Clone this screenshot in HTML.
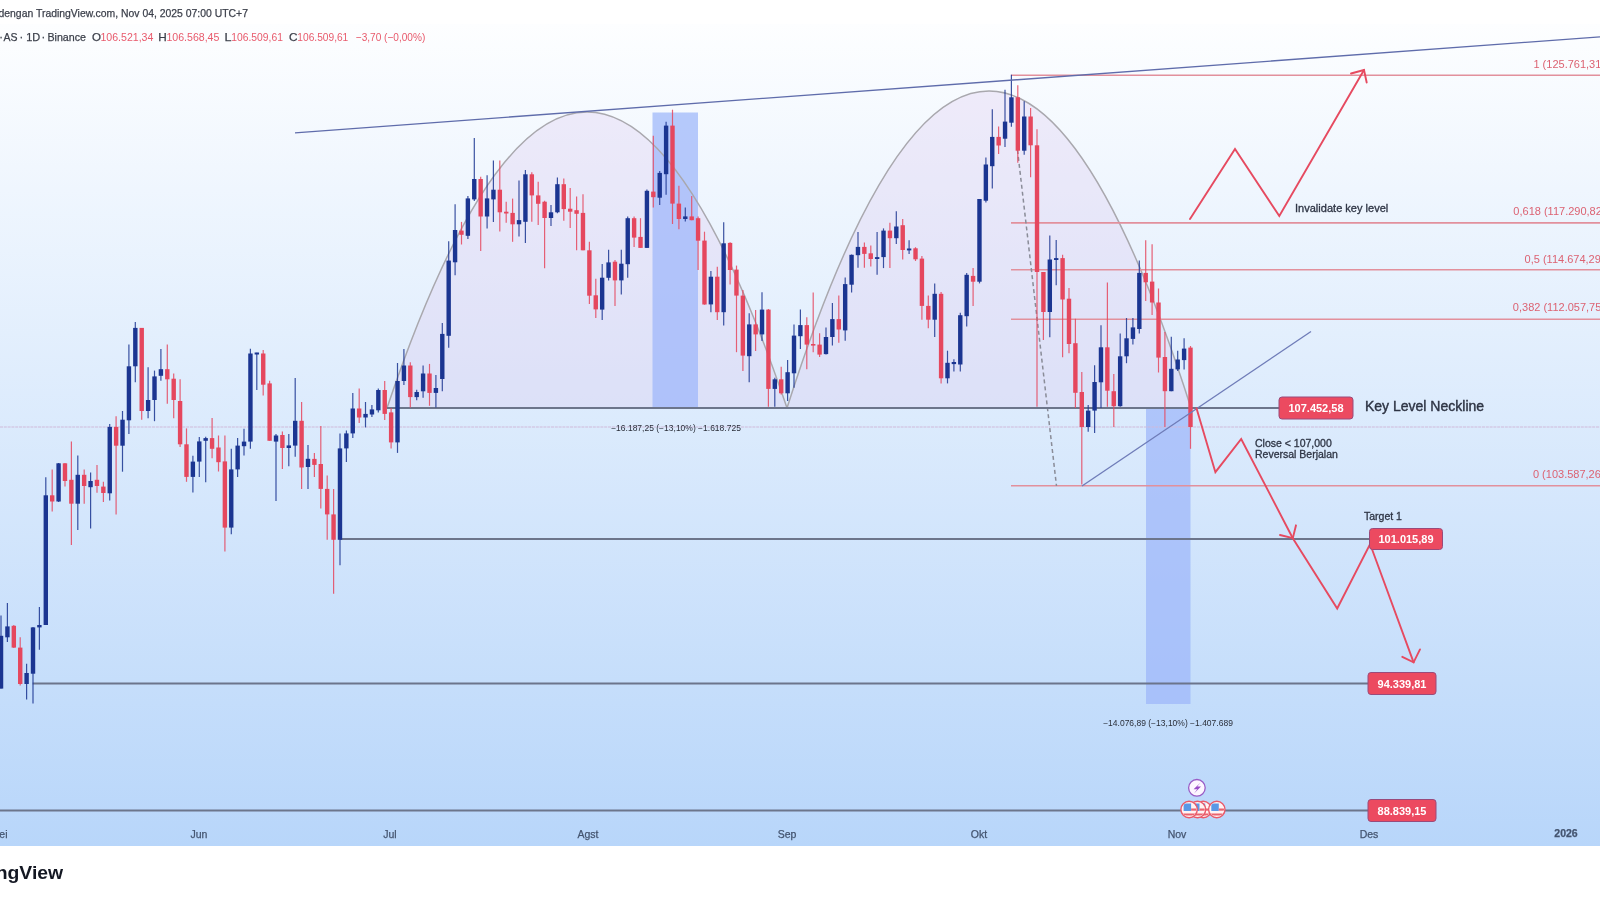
<!DOCTYPE html>
<html><head><meta charset="utf-8">
<style>
html,body{margin:0;padding:0;width:1600px;height:900px;overflow:hidden;background:#fff;}
body{font-family:"Liberation Sans",sans-serif;position:relative;}
#top{position:absolute;left:0;top:0;width:1600px;height:24.5px;background:#fff;border-bottom:1.5px solid #f2f2f3;box-sizing:border-box;}
#chartbg{position:absolute;left:0;top:24px;width:1600px;height:822px;background:linear-gradient(to bottom,#fdfeff 0%,rgb(184,214,250) 100%);}
#bottom{position:absolute;left:0;top:846px;width:1600px;height:54px;background:#fff;}
svg{position:absolute;left:0;top:0;filter:blur(0.45px);}
.t{font-family:"Liberation Sans",sans-serif;}
</style></head>
<body>
<div id="top"></div>
<div id="chartbg"></div>
<div id="bottom"></div>
<svg width="1600" height="900" viewBox="0 0 1600 900">
  <!-- header texts -->
  <g class="t" font-size="11" fill="#3b3f4a" stroke="#3b3f4a" stroke-width="0.25">
  <text x="-1.5" y="17" textLength="249.5" lengthAdjust="spacingAndGlyphs">dengan TradingView.com, Nov 04, 2025 07:00 UTC+7</text>
  <text x="-0.8" y="41">·</text>
  <text x="3.5" y="41" textLength="14" lengthAdjust="spacingAndGlyphs">AS</text>
  <text x="19.5" y="41">·</text>
  <text x="26.2" y="41" textLength="14" lengthAdjust="spacingAndGlyphs">1D</text>
  <text x="41.5" y="41">·</text>
  <text x="47.4" y="41" textLength="38.6" lengthAdjust="spacingAndGlyphs">Binance</text>
  <text x="92.1" y="41" textLength="9" lengthAdjust="spacingAndGlyphs">O</text>
  <text x="100.4" y="41" textLength="53" lengthAdjust="spacingAndGlyphs" fill="#e85a6c" stroke="none">106.521,34</text>
  <text x="158.2" y="41" textLength="8.5" lengthAdjust="spacingAndGlyphs">H</text>
  <text x="166.4" y="41" textLength="53" lengthAdjust="spacingAndGlyphs" fill="#e85a6c" stroke="none">106.568,45</text>
  <text x="224.4" y="41" textLength="7" lengthAdjust="spacingAndGlyphs">L</text>
  <text x="231.3" y="41" textLength="51.6" lengthAdjust="spacingAndGlyphs" fill="#e85a6c" stroke="none">106.509,61</text>
  <text x="289.1" y="41" textLength="8.5" lengthAdjust="spacingAndGlyphs">C</text>
  <text x="297.3" y="41" textLength="51" lengthAdjust="spacingAndGlyphs" fill="#e85a6c" stroke="none">106.509,61</text>
  <text x="355.8" y="41" textLength="69.5" lengthAdjust="spacingAndGlyphs" fill="#e85a6c" stroke="none">−3,70 (−0,00%)</text>
  </g>

  <!-- arcs fill -->
  <path d="M387,408 Q587,-184 787,408 Z" fill="#dcc8ef" fill-opacity="0.3"/>
  <path d="M787,408 Q989,-226 1191,408 Z" fill="#dcc8ef" fill-opacity="0.3"/>

  <!-- blue rectangles -->
  <rect x="652.5" y="112.5" width="45.5" height="295.5" fill="#9db5fa" fill-opacity="0.72"/>
  <rect x="1146" y="408" width="44.5" height="296" fill="#9db5fa" fill-opacity="0.72"/>

  <!-- arcs stroke -->
  <path d="M387,408 Q587,-184 787,408" fill="none" stroke="#a9a8ae" stroke-width="1.5"/>
  <path d="M787,408 Q989,-226 1191,408" fill="none" stroke="#a9a8ae" stroke-width="1.5"/>

  <!-- fib lines -->
  <g stroke="#e2909c" stroke-width="1.6">
    <line x1="1011" y1="75.2" x2="1600" y2="75.2"/>
    <line x1="1011" y1="222.9" x2="1600" y2="222.9"/>
    <line x1="1011" y1="269.7" x2="1600" y2="269.7"/>
    <line x1="1011" y1="319.2" x2="1600" y2="319.2"/>
    <line x1="1011" y1="485.8" x2="1600" y2="485.8"/>
  </g>
  <g class="t" font-size="11" fill="#dc6272" text-anchor="end">
    <text x="1605" y="67.5">1 (125.761,31)</text>
    <text x="1605.5" y="215.3">0,618 (117.290,82)</text>
    <text x="1604.5" y="262.7">0,5 (114.674,29)</text>
    <text x="1605" y="310.7">0,382 (112.057,75)</text>
    <text x="1604.5" y="478">0 (103.587,26)</text>
  </g>
  <!-- dashed fib trend -->
  <line x1="1017.5" y1="150" x2="1056.5" y2="486" stroke="#8a8c98" stroke-width="1.5" stroke-dasharray="4,3"/>

  <!-- current price dotted line -->
  <line x1="0" y1="427" x2="1600" y2="427" stroke="#cfb9da" stroke-width="1.2" stroke-dasharray="3,0.8"/>

  <!-- horizontal levels -->
  <g stroke="#6c758b" stroke-width="1.8">
    <line x1="387" y1="408" x2="1280" y2="408"/>
    <line x1="340" y1="539" x2="1370" y2="539"/>
    <line x1="32.6" y1="683.5" x2="1370" y2="683.5"/>
    <line x1="0" y1="810.5" x2="1370" y2="810.5"/>
  </g>

  <!-- CANDLES -->
  <line x1="1.0" y1="615.6" x2="1.0" y2="688.6" stroke="#1b3591" stroke-width="1.2" opacity="0.85"/>
<rect x="-1.17" y="635.8" width="4.4" height="52.8" fill="#1b3591"/>
<line x1="7.4" y1="603.0" x2="7.4" y2="642.0" stroke="#1b3591" stroke-width="1.2" opacity="0.85"/>
<rect x="5.23" y="626.4" width="4.4" height="10.9" fill="#1b3591"/>
<line x1="13.8" y1="625.0" x2="13.8" y2="648.0" stroke="#e5475e" stroke-width="1.2" opacity="0.85"/>
<rect x="11.62" y="625.8" width="4.4" height="21.8" fill="#e5475e"/>
<line x1="20.2" y1="637.3" x2="20.2" y2="685.5" stroke="#e5475e" stroke-width="1.2" opacity="0.85"/>
<rect x="18.02" y="647.6" width="4.4" height="36.4" fill="#e5475e"/>
<line x1="26.6" y1="663.7" x2="26.6" y2="699.5" stroke="#1b3591" stroke-width="1.2" opacity="0.85"/>
<rect x="24.41" y="673.0" width="4.4" height="11.0" fill="#1b3591"/>
<line x1="33.0" y1="627.0" x2="33.0" y2="703.5" stroke="#1b3591" stroke-width="1.2" opacity="0.85"/>
<rect x="30.81" y="627.4" width="4.4" height="46.3" fill="#1b3591"/>
<line x1="39.4" y1="607.0" x2="39.4" y2="649.8" stroke="#1b3591" stroke-width="1.2" opacity="0.85"/>
<rect x="37.20" y="625.0" width="4.4" height="2.4" fill="#1b3591"/>
<line x1="45.8" y1="477.3" x2="45.8" y2="625.0" stroke="#1b3591" stroke-width="1.2" opacity="0.85"/>
<rect x="43.60" y="495.3" width="4.4" height="129.7" fill="#1b3591"/>
<line x1="52.2" y1="469.5" x2="52.2" y2="511.5" stroke="#e5475e" stroke-width="1.2" opacity="0.85"/>
<rect x="49.99" y="495.3" width="4.4" height="6.2" fill="#e5475e"/>
<line x1="58.6" y1="463.0" x2="58.6" y2="502.0" stroke="#1b3591" stroke-width="1.2" opacity="0.85"/>
<rect x="56.39" y="463.3" width="4.4" height="38.2" fill="#1b3591"/>
<line x1="65.0" y1="463.0" x2="65.0" y2="486.6" stroke="#e5475e" stroke-width="1.2" opacity="0.85"/>
<rect x="62.78" y="463.3" width="4.4" height="17.7" fill="#e5475e"/>
<line x1="71.4" y1="441.5" x2="71.4" y2="545.0" stroke="#e5475e" stroke-width="1.2" opacity="0.85"/>
<rect x="69.17" y="479.8" width="4.4" height="23.9" fill="#e5475e"/>
<line x1="77.8" y1="455.5" x2="77.8" y2="530.0" stroke="#1b3591" stroke-width="1.2" opacity="0.85"/>
<rect x="75.57" y="474.8" width="4.4" height="28.9" fill="#1b3591"/>
<line x1="84.2" y1="469.5" x2="84.2" y2="503.7" stroke="#e5475e" stroke-width="1.2" opacity="0.85"/>
<rect x="81.96" y="474.8" width="4.4" height="11.2" fill="#e5475e"/>
<line x1="90.6" y1="472.6" x2="90.6" y2="528.6" stroke="#1b3591" stroke-width="1.2" opacity="0.85"/>
<rect x="88.36" y="481.0" width="4.4" height="6.2" fill="#1b3591"/>
<line x1="97.0" y1="464.9" x2="97.0" y2="492.8" stroke="#e5475e" stroke-width="1.2" opacity="0.85"/>
<rect x="94.76" y="479.8" width="4.4" height="6.2" fill="#e5475e"/>
<line x1="103.4" y1="481.8" x2="103.4" y2="502.0" stroke="#e5475e" stroke-width="1.2" opacity="0.85"/>
<rect x="101.15" y="486.6" width="4.4" height="6.4" fill="#e5475e"/>
<line x1="109.7" y1="424.0" x2="109.7" y2="500.6" stroke="#1b3591" stroke-width="1.2" opacity="0.85"/>
<rect x="107.55" y="426.9" width="4.4" height="66.4" fill="#1b3591"/>
<line x1="116.1" y1="416.2" x2="116.1" y2="514.4" stroke="#e5475e" stroke-width="1.2" opacity="0.85"/>
<rect x="113.94" y="426.9" width="4.4" height="18.8" fill="#e5475e"/>
<line x1="122.5" y1="411.0" x2="122.5" y2="471.7" stroke="#1b3591" stroke-width="1.2" opacity="0.85"/>
<rect x="120.34" y="419.7" width="4.4" height="26.0" fill="#1b3591"/>
<line x1="128.9" y1="344.6" x2="128.9" y2="434.1" stroke="#1b3591" stroke-width="1.2" opacity="0.85"/>
<rect x="126.73" y="366.3" width="4.4" height="54.0" fill="#1b3591"/>
<line x1="135.3" y1="322.1" x2="135.3" y2="382.2" stroke="#1b3591" stroke-width="1.2" opacity="0.85"/>
<rect x="133.13" y="327.9" width="4.4" height="38.4" fill="#1b3591"/>
<line x1="141.7" y1="328.0" x2="141.7" y2="419.7" stroke="#e5475e" stroke-width="1.2" opacity="0.85"/>
<rect x="139.52" y="327.9" width="4.4" height="83.1" fill="#e5475e"/>
<line x1="148.1" y1="367.2" x2="148.1" y2="418.3" stroke="#1b3591" stroke-width="1.2" opacity="0.85"/>
<rect x="145.92" y="400.0" width="4.4" height="11.0" fill="#1b3591"/>
<line x1="154.5" y1="370.6" x2="154.5" y2="421.2" stroke="#1b3591" stroke-width="1.2" opacity="0.85"/>
<rect x="152.31" y="376.4" width="4.4" height="23.6" fill="#1b3591"/>
<line x1="160.9" y1="349.0" x2="160.9" y2="380.7" stroke="#1b3591" stroke-width="1.2" opacity="0.85"/>
<rect x="158.70" y="369.2" width="4.4" height="6.6" fill="#1b3591"/>
<line x1="167.3" y1="344.6" x2="167.3" y2="403.8" stroke="#e5475e" stroke-width="1.2" opacity="0.85"/>
<rect x="165.10" y="369.2" width="4.4" height="10.1" fill="#e5475e"/>
<line x1="173.7" y1="373.5" x2="173.7" y2="418.3" stroke="#e5475e" stroke-width="1.2" opacity="0.85"/>
<rect x="171.50" y="378.7" width="4.4" height="21.3" fill="#e5475e"/>
<line x1="180.1" y1="379.3" x2="180.1" y2="447.1" stroke="#e5475e" stroke-width="1.2" opacity="0.85"/>
<rect x="177.89" y="401.0" width="4.4" height="43.3" fill="#e5475e"/>
<line x1="186.5" y1="428.4" x2="186.5" y2="481.8" stroke="#e5475e" stroke-width="1.2" opacity="0.85"/>
<rect x="184.29" y="444.3" width="4.4" height="32.6" fill="#e5475e"/>
<line x1="192.9" y1="455.8" x2="192.9" y2="492.5" stroke="#1b3591" stroke-width="1.2" opacity="0.85"/>
<rect x="190.68" y="461.6" width="4.4" height="15.3" fill="#1b3591"/>
<line x1="199.3" y1="437.0" x2="199.3" y2="476.9" stroke="#1b3591" stroke-width="1.2" opacity="0.85"/>
<rect x="197.08" y="441.4" width="4.4" height="20.2" fill="#1b3591"/>
<line x1="205.7" y1="436.8" x2="205.7" y2="482.2" stroke="#1b3591" stroke-width="1.2" opacity="0.85"/>
<rect x="203.47" y="438.1" width="4.4" height="2.7" fill="#1b3591"/>
<line x1="212.1" y1="418.1" x2="212.1" y2="458.2" stroke="#e5475e" stroke-width="1.2" opacity="0.85"/>
<rect x="209.87" y="438.1" width="4.4" height="10.7" fill="#e5475e"/>
<line x1="218.5" y1="435.5" x2="218.5" y2="471.5" stroke="#e5475e" stroke-width="1.2" opacity="0.85"/>
<rect x="216.26" y="447.5" width="4.4" height="14.7" fill="#e5475e"/>
<line x1="224.9" y1="435.5" x2="224.9" y2="551.6" stroke="#e5475e" stroke-width="1.2" opacity="0.85"/>
<rect x="222.66" y="461.4" width="4.4" height="66.2" fill="#e5475e"/>
<line x1="231.3" y1="448.8" x2="231.3" y2="534.3" stroke="#1b3591" stroke-width="1.2" opacity="0.85"/>
<rect x="229.05" y="469.4" width="4.4" height="58.2" fill="#1b3591"/>
<line x1="237.6" y1="438.1" x2="237.6" y2="476.9" stroke="#1b3591" stroke-width="1.2" opacity="0.85"/>
<rect x="235.45" y="445.6" width="4.4" height="23.8" fill="#1b3591"/>
<line x1="244.0" y1="428.8" x2="244.0" y2="455.5" stroke="#1b3591" stroke-width="1.2" opacity="0.85"/>
<rect x="241.84" y="441.6" width="4.4" height="4.6" fill="#1b3591"/>
<line x1="250.4" y1="348.7" x2="250.4" y2="448.8" stroke="#1b3591" stroke-width="1.2" opacity="0.85"/>
<rect x="248.24" y="353.5" width="4.4" height="88.1" fill="#1b3591"/>
<line x1="256.8" y1="352.7" x2="256.8" y2="390.0" stroke="#1b3591" stroke-width="1.2" opacity="0.85"/>
<rect x="254.63" y="352.5" width="4.4" height="2.0" fill="#1b3591"/>
<line x1="263.2" y1="350.0" x2="263.2" y2="395.4" stroke="#e5475e" stroke-width="1.2" opacity="0.85"/>
<rect x="261.03" y="353.5" width="4.4" height="31.2" fill="#e5475e"/>
<line x1="269.6" y1="380.7" x2="269.6" y2="440.8" stroke="#e5475e" stroke-width="1.2" opacity="0.85"/>
<rect x="267.42" y="383.4" width="4.4" height="57.4" fill="#e5475e"/>
<line x1="276.0" y1="434.1" x2="276.0" y2="500.9" stroke="#1b3591" stroke-width="1.2" opacity="0.85"/>
<rect x="273.82" y="435.5" width="4.4" height="6.1" fill="#1b3591"/>
<line x1="282.4" y1="431.5" x2="282.4" y2="468.9" stroke="#e5475e" stroke-width="1.2" opacity="0.85"/>
<rect x="280.21" y="435.0" width="4.4" height="13.0" fill="#e5475e"/>
<line x1="288.8" y1="434.1" x2="288.8" y2="466.2" stroke="#1b3591" stroke-width="1.2" opacity="0.85"/>
<rect x="286.61" y="445.4" width="4.4" height="2.6" fill="#1b3591"/>
<line x1="295.2" y1="378.0" x2="295.2" y2="456.8" stroke="#1b3591" stroke-width="1.2" opacity="0.85"/>
<rect x="293.00" y="420.8" width="4.4" height="24.8" fill="#1b3591"/>
<line x1="301.6" y1="402.1" x2="301.6" y2="488.9" stroke="#e5475e" stroke-width="1.2" opacity="0.85"/>
<rect x="299.40" y="420.8" width="4.4" height="46.7" fill="#e5475e"/>
<line x1="308.0" y1="445.0" x2="308.0" y2="488.9" stroke="#1b3591" stroke-width="1.2" opacity="0.85"/>
<rect x="305.79" y="458.8" width="4.4" height="8.2" fill="#1b3591"/>
<line x1="314.4" y1="452.9" x2="314.4" y2="476.9" stroke="#e5475e" stroke-width="1.2" opacity="0.85"/>
<rect x="312.19" y="458.9" width="4.4" height="6.0" fill="#e5475e"/>
<line x1="320.8" y1="425.9" x2="320.8" y2="508.4" stroke="#e5475e" stroke-width="1.2" opacity="0.85"/>
<rect x="318.58" y="464.0" width="4.4" height="24.9" fill="#e5475e"/>
<line x1="327.2" y1="475.4" x2="327.2" y2="539.8" stroke="#e5475e" stroke-width="1.2" opacity="0.85"/>
<rect x="324.98" y="488.9" width="4.4" height="25.5" fill="#e5475e"/>
<line x1="333.6" y1="488.9" x2="333.6" y2="593.8" stroke="#e5475e" stroke-width="1.2" opacity="0.85"/>
<rect x="331.37" y="514.4" width="4.4" height="25.4" fill="#e5475e"/>
<line x1="340.0" y1="433.4" x2="340.0" y2="565.3" stroke="#1b3591" stroke-width="1.2" opacity="0.85"/>
<rect x="337.77" y="448.4" width="4.4" height="91.4" fill="#1b3591"/>
<line x1="346.4" y1="430.4" x2="346.4" y2="461.9" stroke="#1b3591" stroke-width="1.2" opacity="0.85"/>
<rect x="344.16" y="433.4" width="4.4" height="15.0" fill="#1b3591"/>
<line x1="352.8" y1="393.0" x2="352.8" y2="437.9" stroke="#1b3591" stroke-width="1.2" opacity="0.85"/>
<rect x="350.56" y="408.5" width="4.4" height="24.9" fill="#1b3591"/>
<line x1="359.2" y1="388.5" x2="359.2" y2="422.9" stroke="#e5475e" stroke-width="1.2" opacity="0.85"/>
<rect x="356.95" y="408.5" width="4.4" height="9.0" fill="#e5475e"/>
<line x1="365.5" y1="402.0" x2="365.5" y2="427.4" stroke="#1b3591" stroke-width="1.2" opacity="0.85"/>
<rect x="363.35" y="413.9" width="4.4" height="3.6" fill="#1b3591"/>
<line x1="371.9" y1="405.0" x2="371.9" y2="417.0" stroke="#1b3591" stroke-width="1.2" opacity="0.85"/>
<rect x="369.74" y="409.4" width="4.4" height="5.1" fill="#1b3591"/>
<line x1="378.3" y1="388.5" x2="378.3" y2="412.4" stroke="#1b3591" stroke-width="1.2" opacity="0.85"/>
<rect x="376.14" y="390.0" width="4.4" height="20.3" fill="#1b3591"/>
<line x1="384.7" y1="381.0" x2="384.7" y2="420.0" stroke="#e5475e" stroke-width="1.2" opacity="0.85"/>
<rect x="382.53" y="390.0" width="4.4" height="23.9" fill="#e5475e"/>
<line x1="391.1" y1="408.0" x2="391.1" y2="448.4" stroke="#e5475e" stroke-width="1.2" opacity="0.85"/>
<rect x="388.93" y="412.4" width="4.4" height="30.0" fill="#e5475e"/>
<line x1="397.5" y1="363.0" x2="397.5" y2="452.9" stroke="#1b3591" stroke-width="1.2" opacity="0.85"/>
<rect x="395.32" y="381.0" width="4.4" height="61.4" fill="#1b3591"/>
<line x1="403.9" y1="349.0" x2="403.9" y2="385.0" stroke="#1b3591" stroke-width="1.2" opacity="0.85"/>
<rect x="401.72" y="365.5" width="4.4" height="15.5" fill="#1b3591"/>
<line x1="410.3" y1="362.3" x2="410.3" y2="407.4" stroke="#e5475e" stroke-width="1.2" opacity="0.85"/>
<rect x="408.11" y="365.5" width="4.4" height="31.6" fill="#e5475e"/>
<line x1="416.7" y1="389.7" x2="416.7" y2="400.3" stroke="#1b3591" stroke-width="1.2" opacity="0.85"/>
<rect x="414.51" y="392.0" width="4.4" height="5.1" fill="#1b3591"/>
<line x1="423.1" y1="365.5" x2="423.1" y2="397.7" stroke="#1b3591" stroke-width="1.2" opacity="0.85"/>
<rect x="420.90" y="373.5" width="4.4" height="17.8" fill="#1b3591"/>
<line x1="429.5" y1="363.9" x2="429.5" y2="405.8" stroke="#e5475e" stroke-width="1.2" opacity="0.85"/>
<rect x="427.30" y="373.5" width="4.4" height="19.4" fill="#e5475e"/>
<line x1="435.9" y1="375.0" x2="435.9" y2="407.4" stroke="#1b3591" stroke-width="1.2" opacity="0.85"/>
<rect x="433.69" y="388.0" width="4.4" height="4.9" fill="#1b3591"/>
<line x1="442.3" y1="322.9" x2="442.3" y2="391.3" stroke="#1b3591" stroke-width="1.2" opacity="0.85"/>
<rect x="440.09" y="333.9" width="4.4" height="45.1" fill="#1b3591"/>
<line x1="448.7" y1="241.3" x2="448.7" y2="347.7" stroke="#1b3591" stroke-width="1.2" opacity="0.85"/>
<rect x="446.48" y="260.6" width="4.4" height="75.2" fill="#1b3591"/>
<line x1="455.1" y1="204.2" x2="455.1" y2="275.2" stroke="#1b3591" stroke-width="1.2" opacity="0.85"/>
<rect x="452.88" y="230.0" width="4.4" height="32.3" fill="#1b3591"/>
<line x1="461.5" y1="221.9" x2="461.5" y2="244.5" stroke="#e5475e" stroke-width="1.2" opacity="0.85"/>
<rect x="459.27" y="230.6" width="4.4" height="4.2" fill="#e5475e"/>
<line x1="467.9" y1="196.1" x2="467.9" y2="239.0" stroke="#1b3591" stroke-width="1.2" opacity="0.85"/>
<rect x="465.67" y="198.4" width="4.4" height="37.4" fill="#1b3591"/>
<line x1="474.3" y1="138.0" x2="474.3" y2="201.0" stroke="#1b3591" stroke-width="1.2" opacity="0.85"/>
<rect x="472.06" y="179.0" width="4.4" height="20.4" fill="#1b3591"/>
<line x1="480.7" y1="176.8" x2="480.7" y2="251.0" stroke="#e5475e" stroke-width="1.2" opacity="0.85"/>
<rect x="478.46" y="179.0" width="4.4" height="37.5" fill="#e5475e"/>
<line x1="487.1" y1="175.2" x2="487.1" y2="228.4" stroke="#1b3591" stroke-width="1.2" opacity="0.85"/>
<rect x="484.85" y="198.4" width="4.4" height="18.1" fill="#1b3591"/>
<line x1="493.4" y1="160.6" x2="493.4" y2="221.9" stroke="#1b3591" stroke-width="1.2" opacity="0.85"/>
<rect x="491.25" y="189.7" width="4.4" height="9.7" fill="#1b3591"/>
<line x1="499.8" y1="160.6" x2="499.8" y2="231.6" stroke="#e5475e" stroke-width="1.2" opacity="0.85"/>
<rect x="497.64" y="189.7" width="4.4" height="22.6" fill="#e5475e"/>
<line x1="506.2" y1="201.7" x2="506.2" y2="222.8" stroke="#e5475e" stroke-width="1.2" opacity="0.85"/>
<rect x="504.04" y="211.7" width="4.4" height="1.8" fill="#e5475e"/>
<line x1="512.6" y1="198.6" x2="512.6" y2="241.8" stroke="#e5475e" stroke-width="1.2" opacity="0.85"/>
<rect x="510.43" y="212.9" width="4.4" height="11.4" fill="#e5475e"/>
<line x1="519.0" y1="180.6" x2="519.0" y2="236.6" stroke="#1b3591" stroke-width="1.2" opacity="0.85"/>
<rect x="516.83" y="220.1" width="4.4" height="4.2" fill="#1b3591"/>
<line x1="525.4" y1="170.0" x2="525.4" y2="242.9" stroke="#1b3591" stroke-width="1.2" opacity="0.85"/>
<rect x="523.22" y="174.3" width="4.4" height="47.5" fill="#1b3591"/>
<line x1="531.8" y1="172.2" x2="531.8" y2="221.8" stroke="#e5475e" stroke-width="1.2" opacity="0.85"/>
<rect x="529.62" y="174.3" width="4.4" height="21.1" fill="#e5475e"/>
<line x1="538.2" y1="181.7" x2="538.2" y2="225.0" stroke="#e5475e" stroke-width="1.2" opacity="0.85"/>
<rect x="536.01" y="195.4" width="4.4" height="8.4" fill="#e5475e"/>
<line x1="544.6" y1="200.7" x2="544.6" y2="268.2" stroke="#e5475e" stroke-width="1.2" opacity="0.85"/>
<rect x="542.40" y="201.7" width="4.4" height="16.3" fill="#e5475e"/>
<line x1="551.0" y1="204.9" x2="551.0" y2="226.0" stroke="#1b3591" stroke-width="1.2" opacity="0.85"/>
<rect x="548.80" y="212.3" width="4.4" height="5.7" fill="#1b3591"/>
<line x1="557.4" y1="177.4" x2="557.4" y2="213.3" stroke="#1b3591" stroke-width="1.2" opacity="0.85"/>
<rect x="555.20" y="184.2" width="4.4" height="28.1" fill="#1b3591"/>
<line x1="563.8" y1="178.5" x2="563.8" y2="220.7" stroke="#e5475e" stroke-width="1.2" opacity="0.85"/>
<rect x="561.59" y="184.2" width="4.4" height="24.9" fill="#e5475e"/>
<line x1="570.2" y1="188.0" x2="570.2" y2="228.1" stroke="#e5475e" stroke-width="1.2" opacity="0.85"/>
<rect x="567.99" y="208.7" width="4.4" height="3.0" fill="#e5475e"/>
<line x1="576.6" y1="196.5" x2="576.6" y2="250.3" stroke="#e5475e" stroke-width="1.2" opacity="0.85"/>
<rect x="574.38" y="210.2" width="4.4" height="3.6" fill="#e5475e"/>
<line x1="583.0" y1="194.3" x2="583.0" y2="250.3" stroke="#e5475e" stroke-width="1.2" opacity="0.85"/>
<rect x="580.77" y="212.9" width="4.4" height="37.4" fill="#e5475e"/>
<line x1="589.4" y1="241.8" x2="589.4" y2="304.1" stroke="#e5475e" stroke-width="1.2" opacity="0.85"/>
<rect x="587.17" y="250.3" width="4.4" height="45.4" fill="#e5475e"/>
<line x1="595.8" y1="278.8" x2="595.8" y2="317.9" stroke="#e5475e" stroke-width="1.2" opacity="0.85"/>
<rect x="593.56" y="295.3" width="4.4" height="14.1" fill="#e5475e"/>
<line x1="602.2" y1="264.0" x2="602.2" y2="320.0" stroke="#1b3591" stroke-width="1.2" opacity="0.85"/>
<rect x="599.96" y="277.7" width="4.4" height="31.9" fill="#1b3591"/>
<line x1="608.6" y1="249.7" x2="608.6" y2="280.4" stroke="#1b3591" stroke-width="1.2" opacity="0.85"/>
<rect x="606.36" y="262.4" width="4.4" height="15.4" fill="#1b3591"/>
<line x1="615.0" y1="259.9" x2="615.0" y2="306.0" stroke="#e5475e" stroke-width="1.2" opacity="0.85"/>
<rect x="612.75" y="261.7" width="4.4" height="18.7" fill="#e5475e"/>
<line x1="621.3" y1="249.7" x2="621.3" y2="294.4" stroke="#1b3591" stroke-width="1.2" opacity="0.85"/>
<rect x="619.14" y="263.7" width="4.4" height="16.7" fill="#1b3591"/>
<line x1="627.7" y1="216.4" x2="627.7" y2="277.8" stroke="#1b3591" stroke-width="1.2" opacity="0.85"/>
<rect x="625.54" y="218.2" width="4.4" height="46.0" fill="#1b3591"/>
<line x1="634.1" y1="216.4" x2="634.1" y2="247.1" stroke="#e5475e" stroke-width="1.2" opacity="0.85"/>
<rect x="631.93" y="218.2" width="4.4" height="19.4" fill="#e5475e"/>
<line x1="640.5" y1="218.2" x2="640.5" y2="247.9" stroke="#e5475e" stroke-width="1.2" opacity="0.85"/>
<rect x="638.33" y="236.9" width="4.4" height="11.0" fill="#e5475e"/>
<line x1="646.9" y1="189.5" x2="646.9" y2="247.9" stroke="#1b3591" stroke-width="1.2" opacity="0.85"/>
<rect x="644.73" y="190.8" width="4.4" height="57.1" fill="#1b3591"/>
<line x1="653.3" y1="135.8" x2="653.3" y2="207.4" stroke="#e5475e" stroke-width="1.2" opacity="0.85"/>
<rect x="651.12" y="191.6" width="4.4" height="5.6" fill="#e5475e"/>
<line x1="659.7" y1="171.1" x2="659.7" y2="204.9" stroke="#1b3591" stroke-width="1.2" opacity="0.85"/>
<rect x="657.51" y="172.9" width="4.4" height="24.8" fill="#1b3591"/>
<line x1="666.1" y1="121.7" x2="666.1" y2="194.7" stroke="#1b3591" stroke-width="1.2" opacity="0.85"/>
<rect x="663.91" y="125.6" width="4.4" height="48.6" fill="#1b3591"/>
<line x1="672.5" y1="109.7" x2="672.5" y2="224.0" stroke="#e5475e" stroke-width="1.2" opacity="0.85"/>
<rect x="670.30" y="125.6" width="4.4" height="78.0" fill="#e5475e"/>
<line x1="678.9" y1="185.7" x2="678.9" y2="229.2" stroke="#e5475e" stroke-width="1.2" opacity="0.85"/>
<rect x="676.70" y="203.6" width="4.4" height="15.4" fill="#e5475e"/>
<line x1="685.3" y1="207.4" x2="685.3" y2="221.5" stroke="#1b3591" stroke-width="1.2" opacity="0.85"/>
<rect x="683.10" y="216.4" width="4.4" height="2.6" fill="#1b3591"/>
<line x1="691.7" y1="196.0" x2="691.7" y2="220.2" stroke="#e5475e" stroke-width="1.2" opacity="0.85"/>
<rect x="689.49" y="216.4" width="4.4" height="3.8" fill="#e5475e"/>
<line x1="698.1" y1="216.4" x2="698.1" y2="270.1" stroke="#e5475e" stroke-width="1.2" opacity="0.85"/>
<rect x="695.88" y="218.2" width="4.4" height="22.5" fill="#e5475e"/>
<line x1="704.5" y1="231.7" x2="704.5" y2="304.7" stroke="#e5475e" stroke-width="1.2" opacity="0.85"/>
<rect x="702.28" y="240.6" width="4.4" height="63.9" fill="#e5475e"/>
<line x1="710.9" y1="271.1" x2="710.9" y2="312.2" stroke="#1b3591" stroke-width="1.2" opacity="0.85"/>
<rect x="708.67" y="276.7" width="4.4" height="27.7" fill="#1b3591"/>
<line x1="717.3" y1="266.7" x2="717.3" y2="320.0" stroke="#e5475e" stroke-width="1.2" opacity="0.85"/>
<rect x="715.07" y="276.7" width="4.4" height="35.5" fill="#e5475e"/>
<line x1="723.7" y1="222.2" x2="723.7" y2="325.6" stroke="#1b3591" stroke-width="1.2" opacity="0.85"/>
<rect x="721.46" y="243.3" width="4.4" height="68.9" fill="#1b3591"/>
<line x1="730.1" y1="242.2" x2="730.1" y2="284.4" stroke="#e5475e" stroke-width="1.2" opacity="0.85"/>
<rect x="727.86" y="242.9" width="4.4" height="27.1" fill="#e5475e"/>
<line x1="736.5" y1="265.6" x2="736.5" y2="352.2" stroke="#e5475e" stroke-width="1.2" opacity="0.85"/>
<rect x="734.25" y="269.6" width="4.4" height="26.0" fill="#e5475e"/>
<line x1="742.9" y1="290.0" x2="742.9" y2="371.1" stroke="#e5475e" stroke-width="1.2" opacity="0.85"/>
<rect x="740.65" y="295.6" width="4.4" height="60.0" fill="#e5475e"/>
<line x1="749.2" y1="313.3" x2="749.2" y2="382.2" stroke="#1b3591" stroke-width="1.2" opacity="0.85"/>
<rect x="747.04" y="324.4" width="4.4" height="31.8" fill="#1b3591"/>
<line x1="755.6" y1="310.0" x2="755.6" y2="351.1" stroke="#e5475e" stroke-width="1.2" opacity="0.85"/>
<rect x="753.44" y="324.4" width="4.4" height="10.0" fill="#e5475e"/>
<line x1="762.0" y1="292.2" x2="762.0" y2="341.1" stroke="#1b3591" stroke-width="1.2" opacity="0.85"/>
<rect x="759.84" y="309.6" width="4.4" height="24.8" fill="#1b3591"/>
<line x1="768.4" y1="308.9" x2="768.4" y2="406.7" stroke="#e5475e" stroke-width="1.2" opacity="0.85"/>
<rect x="766.23" y="309.6" width="4.4" height="79.3" fill="#e5475e"/>
<line x1="774.8" y1="377.8" x2="774.8" y2="406.7" stroke="#1b3591" stroke-width="1.2" opacity="0.85"/>
<rect x="772.62" y="379.3" width="4.4" height="9.6" fill="#1b3591"/>
<line x1="781.2" y1="366.7" x2="781.2" y2="394.4" stroke="#e5475e" stroke-width="1.2" opacity="0.85"/>
<rect x="779.02" y="379.3" width="4.4" height="14.0" fill="#e5475e"/>
<line x1="787.6" y1="360.0" x2="787.6" y2="401.1" stroke="#1b3591" stroke-width="1.2" opacity="0.85"/>
<rect x="785.41" y="372.2" width="4.4" height="21.1" fill="#1b3591"/>
<line x1="794.0" y1="324.4" x2="794.0" y2="387.8" stroke="#1b3591" stroke-width="1.2" opacity="0.85"/>
<rect x="791.81" y="335.6" width="4.4" height="37.7" fill="#1b3591"/>
<line x1="800.4" y1="309.6" x2="800.4" y2="348.9" stroke="#1b3591" stroke-width="1.2" opacity="0.85"/>
<rect x="798.20" y="325.1" width="4.4" height="11.1" fill="#1b3591"/>
<line x1="806.8" y1="317.2" x2="806.8" y2="369.2" stroke="#e5475e" stroke-width="1.2" opacity="0.85"/>
<rect x="804.60" y="325.1" width="4.4" height="19.5" fill="#e5475e"/>
<line x1="813.2" y1="292.6" x2="813.2" y2="352.2" stroke="#e5475e" stroke-width="1.2" opacity="0.85"/>
<rect x="811.00" y="344.0" width="4.4" height="1.6" fill="#e5475e"/>
<line x1="819.6" y1="333.3" x2="819.6" y2="356.9" stroke="#e5475e" stroke-width="1.2" opacity="0.85"/>
<rect x="817.39" y="344.6" width="4.4" height="10.0" fill="#e5475e"/>
<line x1="826.0" y1="327.6" x2="826.0" y2="354.6" stroke="#1b3591" stroke-width="1.2" opacity="0.85"/>
<rect x="823.78" y="337.0" width="4.4" height="17.1" fill="#1b3591"/>
<line x1="832.4" y1="303.0" x2="832.4" y2="345.6" stroke="#1b3591" stroke-width="1.2" opacity="0.85"/>
<rect x="830.18" y="319.1" width="4.4" height="17.9" fill="#1b3591"/>
<line x1="838.8" y1="295.5" x2="838.8" y2="342.7" stroke="#e5475e" stroke-width="1.2" opacity="0.85"/>
<rect x="836.58" y="319.1" width="4.4" height="10.4" fill="#e5475e"/>
<line x1="845.2" y1="277.5" x2="845.2" y2="340.8" stroke="#1b3591" stroke-width="1.2" opacity="0.85"/>
<rect x="842.97" y="284.1" width="4.4" height="46.3" fill="#1b3591"/>
<line x1="851.6" y1="254.4" x2="851.6" y2="292.6" stroke="#1b3591" stroke-width="1.2" opacity="0.85"/>
<rect x="849.37" y="254.8" width="4.4" height="29.9" fill="#1b3591"/>
<line x1="858.0" y1="232.1" x2="858.0" y2="267.7" stroke="#1b3591" stroke-width="1.2" opacity="0.85"/>
<rect x="855.76" y="246.9" width="4.4" height="8.3" fill="#1b3591"/>
<line x1="864.4" y1="242.5" x2="864.4" y2="267.7" stroke="#e5475e" stroke-width="1.2" opacity="0.85"/>
<rect x="862.15" y="246.9" width="4.4" height="7.0" fill="#e5475e"/>
<line x1="870.8" y1="245.4" x2="870.8" y2="266.5" stroke="#e5475e" stroke-width="1.2" opacity="0.85"/>
<rect x="868.55" y="253.3" width="4.4" height="5.7" fill="#e5475e"/>
<line x1="877.1" y1="232.1" x2="877.1" y2="274.7" stroke="#1b3591" stroke-width="1.2" opacity="0.85"/>
<rect x="874.94" y="257.1" width="4.4" height="1.9" fill="#1b3591"/>
<line x1="883.5" y1="228.4" x2="883.5" y2="268.1" stroke="#1b3591" stroke-width="1.2" opacity="0.85"/>
<rect x="881.34" y="230.6" width="4.4" height="26.5" fill="#1b3591"/>
<line x1="889.9" y1="222.7" x2="889.9" y2="268.1" stroke="#e5475e" stroke-width="1.2" opacity="0.85"/>
<rect x="887.73" y="230.6" width="4.4" height="7.6" fill="#e5475e"/>
<line x1="896.3" y1="211.3" x2="896.3" y2="243.9" stroke="#1b3591" stroke-width="1.2" opacity="0.85"/>
<rect x="894.13" y="226.5" width="4.4" height="11.7" fill="#1b3591"/>
<line x1="902.7" y1="219.0" x2="902.7" y2="259.4" stroke="#e5475e" stroke-width="1.2" opacity="0.85"/>
<rect x="900.52" y="225.2" width="4.4" height="24.8" fill="#e5475e"/>
<line x1="909.1" y1="240.3" x2="909.1" y2="254.1" stroke="#1b3591" stroke-width="1.2" opacity="0.85"/>
<rect x="906.92" y="248.5" width="4.4" height="1.9" fill="#1b3591"/>
<line x1="915.5" y1="247.2" x2="915.5" y2="261.0" stroke="#e5475e" stroke-width="1.2" opacity="0.85"/>
<rect x="913.32" y="248.3" width="4.4" height="11.0" fill="#e5475e"/>
<line x1="921.9" y1="255.9" x2="921.9" y2="319.7" stroke="#e5475e" stroke-width="1.2" opacity="0.85"/>
<rect x="919.71" y="258.6" width="4.4" height="47.3" fill="#e5475e"/>
<line x1="928.3" y1="295.5" x2="928.3" y2="328.3" stroke="#e5475e" stroke-width="1.2" opacity="0.85"/>
<rect x="926.11" y="305.9" width="4.4" height="13.8" fill="#e5475e"/>
<line x1="934.7" y1="283.4" x2="934.7" y2="336.9" stroke="#1b3591" stroke-width="1.2" opacity="0.85"/>
<rect x="932.50" y="293.8" width="4.4" height="25.9" fill="#1b3591"/>
<line x1="941.1" y1="292.1" x2="941.1" y2="383.4" stroke="#e5475e" stroke-width="1.2" opacity="0.85"/>
<rect x="938.89" y="293.8" width="4.4" height="84.5" fill="#e5475e"/>
<line x1="947.5" y1="350.7" x2="947.5" y2="383.4" stroke="#1b3591" stroke-width="1.2" opacity="0.85"/>
<rect x="945.29" y="362.8" width="4.4" height="15.5" fill="#1b3591"/>
<line x1="953.9" y1="359.3" x2="953.9" y2="371.4" stroke="#1b3591" stroke-width="1.2" opacity="0.85"/>
<rect x="951.68" y="362.0" width="4.4" height="2.1" fill="#1b3591"/>
<line x1="960.3" y1="312.8" x2="960.3" y2="371.4" stroke="#1b3591" stroke-width="1.2" opacity="0.85"/>
<rect x="958.08" y="315.2" width="4.4" height="49.3" fill="#1b3591"/>
<line x1="966.7" y1="273.1" x2="966.7" y2="326.6" stroke="#1b3591" stroke-width="1.2" opacity="0.85"/>
<rect x="964.47" y="274.8" width="4.4" height="41.4" fill="#1b3591"/>
<line x1="973.1" y1="267.9" x2="973.1" y2="305.9" stroke="#e5475e" stroke-width="1.2" opacity="0.85"/>
<rect x="970.87" y="275.9" width="4.4" height="5.8" fill="#e5475e"/>
<line x1="979.5" y1="199.0" x2="979.5" y2="283.4" stroke="#1b3591" stroke-width="1.2" opacity="0.85"/>
<rect x="977.26" y="199.0" width="4.4" height="82.7" fill="#1b3591"/>
<line x1="985.9" y1="157.6" x2="985.9" y2="202.4" stroke="#1b3591" stroke-width="1.2" opacity="0.85"/>
<rect x="983.66" y="164.5" width="4.4" height="36.2" fill="#1b3591"/>
<line x1="992.3" y1="109.3" x2="992.3" y2="188.6" stroke="#1b3591" stroke-width="1.2" opacity="0.85"/>
<rect x="990.05" y="136.9" width="4.4" height="29.3" fill="#1b3591"/>
<line x1="998.6" y1="126.6" x2="998.6" y2="154.1" stroke="#e5475e" stroke-width="1.2" opacity="0.85"/>
<rect x="996.45" y="136.9" width="4.4" height="8.6" fill="#e5475e"/>
<line x1="1005.0" y1="89.8" x2="1005.0" y2="147.0" stroke="#1b3591" stroke-width="1.2" opacity="0.85"/>
<rect x="1002.85" y="121.6" width="4.4" height="17.1" fill="#1b3591"/>
<line x1="1011.4" y1="74.7" x2="1011.4" y2="126.7" stroke="#1b3591" stroke-width="1.2" opacity="0.85"/>
<rect x="1009.24" y="97.3" width="4.4" height="25.4" fill="#1b3591"/>
<line x1="1017.8" y1="85.3" x2="1017.8" y2="162.7" stroke="#e5475e" stroke-width="1.2" opacity="0.85"/>
<rect x="1015.63" y="97.3" width="4.4" height="53.4" fill="#e5475e"/>
<line x1="1024.2" y1="101.3" x2="1024.2" y2="154.7" stroke="#1b3591" stroke-width="1.2" opacity="0.85"/>
<rect x="1022.03" y="116.5" width="4.4" height="34.2" fill="#1b3591"/>
<line x1="1030.6" y1="108.0" x2="1030.6" y2="177.3" stroke="#e5475e" stroke-width="1.2" opacity="0.85"/>
<rect x="1028.42" y="116.5" width="4.4" height="28.8" fill="#e5475e"/>
<line x1="1037.0" y1="129.3" x2="1037.0" y2="406.7" stroke="#e5475e" stroke-width="1.2" opacity="0.85"/>
<rect x="1034.82" y="145.3" width="4.4" height="126.7" fill="#e5475e"/>
<line x1="1043.4" y1="272.0" x2="1043.4" y2="340.0" stroke="#e5475e" stroke-width="1.2" opacity="0.85"/>
<rect x="1041.21" y="272.0" width="4.4" height="40.0" fill="#e5475e"/>
<line x1="1049.8" y1="235.5" x2="1049.8" y2="337.3" stroke="#1b3591" stroke-width="1.2" opacity="0.85"/>
<rect x="1047.61" y="259.5" width="4.4" height="52.5" fill="#1b3591"/>
<line x1="1056.2" y1="240.0" x2="1056.2" y2="285.3" stroke="#1b3591" stroke-width="1.2" opacity="0.85"/>
<rect x="1054.00" y="258.1" width="4.4" height="1.9" fill="#1b3591"/>
<line x1="1062.6" y1="254.7" x2="1062.6" y2="357.3" stroke="#e5475e" stroke-width="1.2" opacity="0.85"/>
<rect x="1060.40" y="258.1" width="4.4" height="41.4" fill="#e5475e"/>
<line x1="1069.0" y1="288.0" x2="1069.0" y2="353.3" stroke="#e5475e" stroke-width="1.2" opacity="0.85"/>
<rect x="1066.79" y="298.7" width="4.4" height="45.3" fill="#e5475e"/>
<line x1="1075.4" y1="318.7" x2="1075.4" y2="408.0" stroke="#e5475e" stroke-width="1.2" opacity="0.85"/>
<rect x="1073.19" y="343.2" width="4.4" height="49.6" fill="#e5475e"/>
<line x1="1081.8" y1="372.0" x2="1081.8" y2="484.6" stroke="#e5475e" stroke-width="1.2" opacity="0.85"/>
<rect x="1079.59" y="392.0" width="4.4" height="35.0" fill="#e5475e"/>
<line x1="1088.2" y1="405.0" x2="1088.2" y2="431.7" stroke="#1b3591" stroke-width="1.2" opacity="0.85"/>
<rect x="1085.98" y="410.6" width="4.4" height="16.4" fill="#1b3591"/>
<line x1="1094.6" y1="365.3" x2="1094.6" y2="433.0" stroke="#1b3591" stroke-width="1.2" opacity="0.85"/>
<rect x="1092.38" y="382.0" width="4.4" height="28.6" fill="#1b3591"/>
<line x1="1101.0" y1="325.3" x2="1101.0" y2="408.0" stroke="#1b3591" stroke-width="1.2" opacity="0.85"/>
<rect x="1098.77" y="347.3" width="4.4" height="35.0" fill="#1b3591"/>
<line x1="1107.4" y1="282.5" x2="1107.4" y2="406.8" stroke="#e5475e" stroke-width="1.2" opacity="0.85"/>
<rect x="1105.16" y="347.3" width="4.4" height="43.4" fill="#e5475e"/>
<line x1="1113.8" y1="374.0" x2="1113.8" y2="427.0" stroke="#e5475e" stroke-width="1.2" opacity="0.85"/>
<rect x="1111.56" y="391.2" width="4.4" height="15.0" fill="#e5475e"/>
<line x1="1120.2" y1="333.6" x2="1120.2" y2="406.8" stroke="#1b3591" stroke-width="1.2" opacity="0.85"/>
<rect x="1117.95" y="356.3" width="4.4" height="49.9" fill="#1b3591"/>
<line x1="1126.5" y1="318.0" x2="1126.5" y2="363.2" stroke="#1b3591" stroke-width="1.2" opacity="0.85"/>
<rect x="1124.35" y="338.3" width="4.4" height="18.0" fill="#1b3591"/>
<line x1="1132.9" y1="318.0" x2="1132.9" y2="344.5" stroke="#1b3591" stroke-width="1.2" opacity="0.85"/>
<rect x="1130.74" y="327.4" width="4.4" height="11.5" fill="#1b3591"/>
<line x1="1139.3" y1="260.5" x2="1139.3" y2="333.6" stroke="#1b3591" stroke-width="1.2" opacity="0.85"/>
<rect x="1137.14" y="272.9" width="4.4" height="56.1" fill="#1b3591"/>
<line x1="1145.7" y1="240.2" x2="1145.7" y2="301.0" stroke="#e5475e" stroke-width="1.2" opacity="0.85"/>
<rect x="1143.53" y="272.9" width="4.4" height="9.4" fill="#e5475e"/>
<line x1="1152.1" y1="244.3" x2="1152.1" y2="315.0" stroke="#e5475e" stroke-width="1.2" opacity="0.85"/>
<rect x="1149.93" y="281.6" width="4.4" height="20.9" fill="#e5475e"/>
<line x1="1158.5" y1="288.5" x2="1158.5" y2="372.5" stroke="#e5475e" stroke-width="1.2" opacity="0.85"/>
<rect x="1156.33" y="302.5" width="4.4" height="55.1" fill="#e5475e"/>
<line x1="1164.9" y1="332.0" x2="1164.9" y2="427.0" stroke="#e5475e" stroke-width="1.2" opacity="0.85"/>
<rect x="1162.72" y="357.0" width="4.4" height="34.2" fill="#e5475e"/>
<line x1="1171.3" y1="336.7" x2="1171.3" y2="391.2" stroke="#1b3591" stroke-width="1.2" opacity="0.85"/>
<rect x="1169.12" y="368.8" width="4.4" height="22.4" fill="#1b3591"/>
<line x1="1177.7" y1="350.7" x2="1177.7" y2="371.0" stroke="#1b3591" stroke-width="1.2" opacity="0.85"/>
<rect x="1175.51" y="359.5" width="4.4" height="9.9" fill="#1b3591"/>
<line x1="1184.1" y1="338.3" x2="1184.1" y2="369.4" stroke="#1b3591" stroke-width="1.2" opacity="0.85"/>
<rect x="1181.90" y="348.6" width="4.4" height="11.5" fill="#1b3591"/>
<line x1="1190.5" y1="346.0" x2="1190.5" y2="448.8" stroke="#e5475e" stroke-width="1.2" opacity="0.85"/>
<rect x="1188.30" y="347.6" width="4.4" height="79.4" fill="#e5475e"/>

  <!-- trendlines -->
  <line x1="295" y1="132.8" x2="1600" y2="36.9" stroke="#5f6cab" stroke-width="1.35"/>
  <line x1="1082" y1="486" x2="1311" y2="331.5" stroke="#6f7cb8" stroke-width="1.35"/>

  <!-- zigzag up -->
  <g fill="none" stroke="#e64a60" stroke-width="1.9" stroke-linejoin="miter" stroke-linecap="round">
    <polyline points="1190,219 1235,149 1279.3,216 1364,70"/>
    <polyline points="1351,73.5 1364,70 1366.7,82.5"/>
    <polyline points="1196.5,408.2 1215.4,472.2 1241.2,439 1292.8,538.2 1337.2,608.5 1370.1,544 1413.6,662.3"/>
    <polyline points="1280,535 1292.8,538.2 1296,525.3"/>
    <polyline points="1402.3,656.8 1413.6,662.3 1420,649.4"/>
  </g>

  <!-- labels -->
  <g>
    <rect x="1279" y="397" width="74" height="22" rx="3" fill="#ec4a60" stroke="#9a4a7a" stroke-width="1"/>
    <text class="t" x="1316" y="412" font-size="11" font-weight="bold" fill="#fff" text-anchor="middle">107.452,58</text>
    <rect x="1369.5" y="528.5" width="73" height="21" rx="3" fill="#ec4a60" stroke="#9a4a7a" stroke-width="1"/>
    <text class="t" x="1406" y="543" font-size="11" font-weight="bold" fill="#fff" text-anchor="middle">101.015,89</text>
    <rect x="1368" y="672.5" width="68" height="22" rx="3" fill="#ec4a60" stroke="#9a4a7a" stroke-width="1"/>
    <text class="t" x="1402" y="687.5" font-size="11" font-weight="bold" fill="#fff" text-anchor="middle">94.339,81</text>
    <rect x="1368" y="799.5" width="68" height="22" rx="3" fill="#ec4a60" stroke="#9a4a7a" stroke-width="1"/>
    <text class="t" x="1402" y="814.5" font-size="11" font-weight="bold" fill="#fff" text-anchor="middle">88.839,15</text>
  </g>
  <text class="t" x="1365" y="411" font-size="14" fill="#2e3444" stroke="#2e3444" stroke-width="0.4">Key Level Neckline</text>
  <text class="t" x="1295" y="212.2" font-size="10.5" fill="#2e3444" stroke="#2e3444" stroke-width="0.3" textLength="93.3" lengthAdjust="spacingAndGlyphs">Invalidate key level</text>
  <text class="t" x="1255" y="447" font-size="10.5" fill="#2e3444" stroke="#2e3444" stroke-width="0.3">Close &lt; 107,000</text>
  <text class="t" x="1255" y="458" font-size="10.5" fill="#2e3444" stroke="#2e3444" stroke-width="0.3">Reversal Berjalan</text>
  <text class="t" x="1364" y="520" font-size="10.5" fill="#2e3444" stroke="#2e3444" stroke-width="0.3">Target 1</text>
  <text class="t" x="676" y="430.5" font-size="8.5" fill="#2a2e39" text-anchor="middle">−16.187,25 (−13,10%) −1.618.725</text>
  <text class="t" x="1168" y="726" font-size="8.5" fill="#2a2e39" text-anchor="middle">−14.076,89 (−13,10%) −1.407.689</text>

  <!-- events -->
  <defs>
    <clipPath id="cf"><circle cx="0" cy="0" r="7.2"/></clipPath>
  </defs>
  <circle cx="1196.9" cy="787.8" r="8.3" fill="#fdf6ff" stroke="#9a5cc6" stroke-width="1.3"/>
  <path d="M1200.6,782.4 L1193.6,789.3 L1197.3,789.3 L1194,793.6 L1201,786.6 L1197.3,786.6 Z" fill="#9a4cc8"/>
  <g id="flags">
    <g transform="translate(1203.2,809.5)"><circle r="8.2" fill="#fff2f3" stroke="#ea5a6a" stroke-width="1.4"/><g clip-path="url(#cf)"><rect x="-5.5" y="-6" width="7.5" height="7.5" fill="#5a98e6"/><rect x="2" y="-1" width="7" height="2.2" fill="#e8636f"/><rect x="-6" y="4" width="12" height="2" fill="#e8636f"/></g></g>
    <g transform="translate(1197.5,809.5)"><circle r="8.2" fill="#fff2f3" stroke="#ea5a6a" stroke-width="1.4"/><g clip-path="url(#cf)"><rect x="-5.5" y="-6" width="7.5" height="7.5" fill="#5a98e6"/><rect x="2" y="-1" width="7" height="2.2" fill="#e8636f"/><rect x="-6" y="4" width="12" height="2" fill="#e8636f"/></g></g>
    <g transform="translate(1216.8,809.5)"><circle r="8.2" fill="#fff2f3" stroke="#ea5a6a" stroke-width="1.4"/><g clip-path="url(#cf)"><rect x="-5.5" y="-6" width="7.5" height="7.5" fill="#5a98e6"/><rect x="2" y="-1" width="7" height="2.2" fill="#e8636f"/><rect x="-6" y="4" width="12" height="2" fill="#e8636f"/></g></g>
    <g transform="translate(1189.1,809.5)"><circle r="8.2" fill="#fff2f3" stroke="#ea5a6a" stroke-width="1.4"/><g clip-path="url(#cf)"><rect x="-5.5" y="-6" width="7.5" height="7.5" fill="#5a98e6"/><rect x="2" y="-1" width="7" height="2.2" fill="#e8636f"/><rect x="-6" y="4" width="12" height="2" fill="#e8636f"/></g></g>
  </g>

  <!-- time axis -->
  <g class="t" font-size="10.5" fill="#44546f" text-anchor="middle" stroke="#44546f" stroke-width="0.25">
    <text x="-1" y="837.5">Mei</text>
    <text x="199" y="837.5">Jun</text>
    <text x="390" y="837.5">Jul</text>
    <text x="588" y="837.5">Agst</text>
    <text x="787" y="837.5">Sep</text>
    <text x="979" y="837.5">Okt</text>
    <text x="1177" y="837.5">Nov</text>
    <text x="1369" y="837.5">Des</text>
    <text x="1566" y="837" font-weight="bold">2026</text>
  </g>
  <text class="t" x="-50.5" y="879" font-size="18" font-weight="bold" fill="#131722" textLength="113.6" lengthAdjust="spacingAndGlyphs">TradingView</text>
</svg>
</body></html>
